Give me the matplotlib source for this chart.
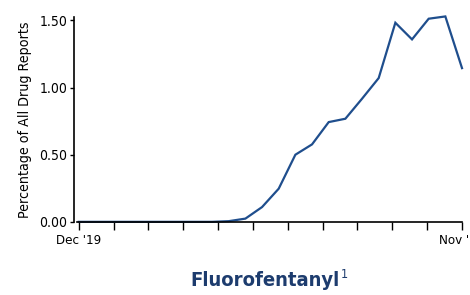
import numpy as np
import matplotlib
matplotlib.use("Agg")
import matplotlib.pyplot as plt

plt.rcParams['font.family'] = ['DejaVu Sans']
plt.rcParams['font.stretch'] = 'condensed'

months = ["Dec '19", "Jan '20", "Feb '20", "Mar '20", "Apr '20", "May '20", "Jun '20",
          "Jul '20", "Aug '20", "Sep '20", "Oct '20", "Nov '20", "Dec '20", "Jan '21",
          "Feb '21", "Mar '21", "Apr '21", "May '21", "Jun '21", "Jul '21", "Aug '21",
          "Sep '21", "Oct '21", "Nov '21"]
pct = [0.0, 0.0, 0.0, 0.0, 0.0, 0.0, 0.0, 0.0, 0.0, 0.005, 0.024, 0.11,
       0.247, 0.50, 0.577, 0.743, 0.768, 0.917, 1.071, 1.483, 1.359, 1.513,
       1.530, 1.145]
yticks = [0.0, 0.5, 1.0, 1.5]

line_color = '#1f4e8d'
title_color = '#1d3c6e'

fig = plt.figure(figsize=(4.7, 2.95), dpi=100)
ax = fig.add_axes([0.164, 0.248, 0.819, 0.694])

x = np.arange(len(months))
ax.plot(x, pct, color=line_color, lw=1.6, solid_joinstyle='miter', clip_on=False)

ax.set_xlim(-0.1, len(months) - 1)
ax.set_ylim(0, 1.525)

# 12 evenly spaced ticks, only the ends labelled
ticks = np.linspace(0, len(months) - 1, 12)
labels = [''] * 12
labels[0] = months[0]
labels[-1] = months[-1]
ax.set_xticks(ticks)
ax.set_xticklabels(labels, fontsize=9.5)
ax.tick_params(axis='x', direction='out', length=6, width=1, pad=3)

ax.set_yticks(yticks)
ax.set_yticklabels(['%.2f' % v for v in yticks], fontsize=11.5)
ax.tick_params(axis='y', direction='out', length=3, width=1, pad=2)

ax.set_ylabel('Percentage of All Drug Reports', fontsize=10.2, labelpad=5)

for s in ['top', 'right']:
    ax.spines[s].set_visible(False)
for s in ['left', 'bottom']:
    ax.spines[s].set_linewidth(1.2)
ax.spines['left'].set_position(('outward', 2))

t = fig.text(0.563, 0.03, 'Fluorofentanyl', ha='center', va='baseline',
             fontsize=14.5, fontweight='bold', color=title_color)
ax.annotate('1', xy=(1, 1), xycoords=t, xytext=(1, 2), textcoords='offset points',
            ha='left', va='top', fontsize=9, color=title_color)

fig.savefig('out.png', dpi=100)
